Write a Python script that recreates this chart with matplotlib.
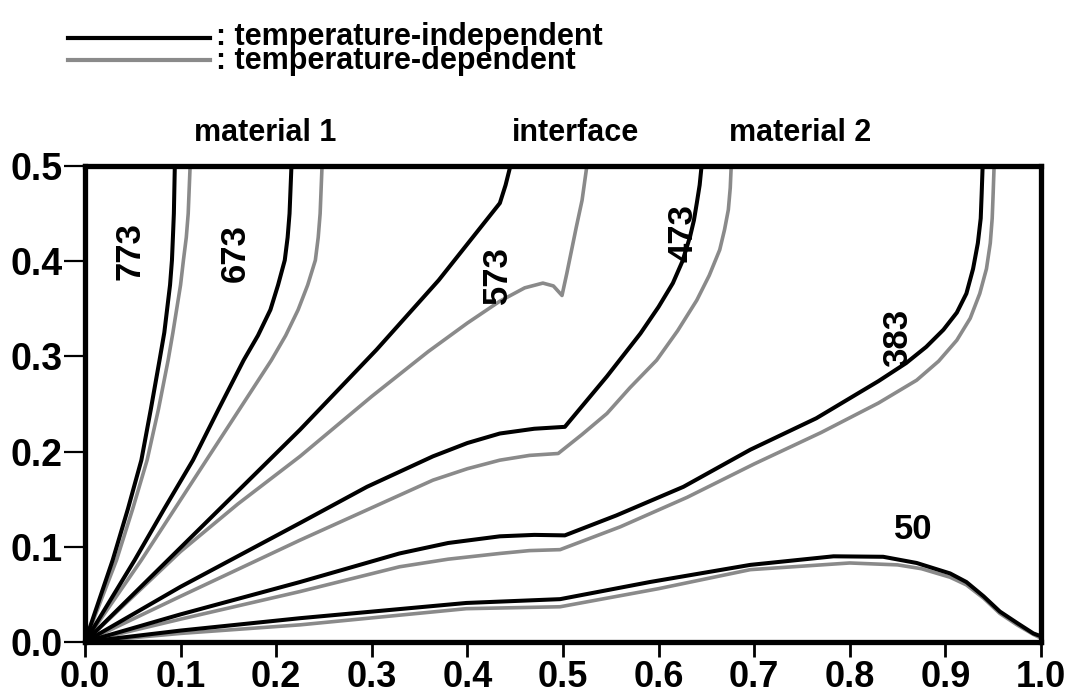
import matplotlib
matplotlib.use('Agg')
import matplotlib.pyplot as plt
from matplotlib.lines import Line2D

plt.rcParams['font.family'] = ['Liberation Sans', 'DejaVu Sans']
plt.rcParams['font.weight'] = 'bold'

# ── DATA ─────────────────────────────────────────────────────────────────────
# temperature-independent (black) and temperature-dependent (gray) isotherms
x773_ind = [0, 0.029, 0.045, 0.059, 0.069, 0.078, 0.083, 0.086, 0.089,
            0.091, 0.092, 0.093, 0.094]
y773_ind = [0, 0.086, 0.140, 0.191, 0.245, 0.296, 0.325, 0.350, 0.375,
            0.401, 0.425, 0.450, 0.500]
x773_dep = [0, 0.033, 0.050, 0.065, 0.077, 0.087, 0.092, 0.096, 0.100,
            0.103, 0.106, 0.108, 0.110]
y773_dep = [0, 0.086, 0.140, 0.191, 0.245, 0.296, 0.325, 0.350, 0.375,
            0.401, 0.425, 0.450, 0.500]

x673_ind = [0, 0.052, 0.083, 0.113, 0.140, 0.166, 0.181, 0.194, 0.202,
            0.209, 0.212, 0.214, 0.215, 0.216]
y673_ind = [0, 0.086, 0.140, 0.191, 0.245, 0.296, 0.322, 0.349, 0.375,
            0.401, 0.425, 0.450, 0.475, 0.500]
x673_dep = [0, 0.059, 0.094, 0.127, 0.162, 0.195, 0.210, 0.223, 0.233,
            0.241, 0.244, 0.246, 0.247, 0.248]
y673_dep = [0, 0.086, 0.140, 0.191, 0.245, 0.296, 0.322, 0.349, 0.375,
            0.401, 0.425, 0.450, 0.475, 0.500]

x573_ind = [0, 0.225, 0.305, 0.370, 0.434, 0.440, 0.445]
y573_ind = [0, 0.223, 0.307, 0.380, 0.461, 0.480, 0.500]
x573_dep = [0, 0.100, 0.160, 0.225, 0.300, 0.359, 0.400, 0.434, 0.460,
            0.479, 0.490, 0.499, 0.504, 0.514, 0.520, 0.525]
y573_dep = [0, 0.095, 0.145, 0.195, 0.258, 0.305, 0.335, 0.358, 0.372,
            0.377, 0.374, 0.364, 0.387, 0.436, 0.464, 0.500]

x473_ind = [0, 0.100, 0.225, 0.295, 0.364, 0.400, 0.434, 0.470, 0.502,
            0.546, 0.581, 0.600, 0.615, 0.625, 0.633, 0.637, 0.640,
            0.643, 0.645]
y473_ind = [0, 0.058, 0.125, 0.163, 0.195, 0.209, 0.219, 0.224, 0.226,
            0.279, 0.324, 0.352, 0.377, 0.400, 0.426, 0.443, 0.461,
            0.480, 0.500]
x473_dep = [0, 0.100, 0.225, 0.364, 0.400, 0.434, 0.465, 0.495, 0.520,
            0.546, 0.570, 0.598, 0.620, 0.640, 0.653, 0.664, 0.669,
            0.673, 0.675, 0.676]
y473_dep = [0, 0.048, 0.107, 0.170, 0.182, 0.191, 0.196, 0.198, 0.218,
            0.240, 0.267, 0.296, 0.327, 0.359, 0.385, 0.412, 0.433,
            0.454, 0.477, 0.500]

x383_ind = [0, 0.100, 0.225, 0.329, 0.380, 0.434, 0.470, 0.502, 0.556,
            0.626, 0.696, 0.765, 0.800, 0.830, 0.859, 0.880, 0.898,
            0.912, 0.922, 0.929, 0.934, 0.937, 0.938, 0.939]
y383_ind = [0, 0.029, 0.063, 0.093, 0.104, 0.111, 0.1125, 0.112, 0.133,
            0.163, 0.202, 0.235, 0.256, 0.274, 0.293, 0.310, 0.328,
            0.346, 0.366, 0.392, 0.419, 0.445, 0.471, 0.500]
x383_dep = [0, 0.100, 0.225, 0.329, 0.380, 0.434, 0.465, 0.497, 0.560,
            0.630, 0.700, 0.770, 0.830, 0.870, 0.893, 0.912, 0.926,
            0.936, 0.943, 0.947, 0.949, 0.950, 0.951]
y383_dep = [0, 0.024, 0.053, 0.079, 0.087, 0.093, 0.096, 0.097, 0.121,
            0.152, 0.187, 0.220, 0.251, 0.275, 0.295, 0.317, 0.340,
            0.366, 0.392, 0.419, 0.445, 0.471, 0.500]

x50_ind = [0, 0.100, 0.225, 0.399, 0.497, 0.591, 0.696, 0.783, 0.835,
           0.870, 0.905, 0.922, 0.940, 0.957, 0.975, 0.992, 1.000]
y50_ind = [0, 0.012, 0.025, 0.041, 0.045, 0.063, 0.081, 0.090, 0.0895,
           0.083, 0.072, 0.063, 0.048, 0.032, 0.020, 0.009, 0.006]
x50_dep = [0, 0.100, 0.225, 0.399, 0.497, 0.600, 0.696, 0.800, 0.850,
           0.875, 0.905, 0.922, 0.940, 0.957, 0.975, 0.992, 1.000]
y50_dep = [0, 0.009, 0.018, 0.035, 0.037, 0.056, 0.076, 0.083, 0.081,
           0.077, 0.068, 0.060, 0.046, 0.030, 0.018, 0.008, 0.004]

# isotherm labels: (text, x, y, rotation)
LABELS = [('773', 0.047, 0.411, 90), ('673', 0.157, 0.409, 90),
          ('573', 0.431, 0.385, 90), ('473', 0.626, 0.430, 90),
          ('383', 0.850, 0.319, 90), ('50', 0.866, 0.118, 0)]
REGIONS = [('material 1', 0.189), ('interface', 0.513), ('material 2', 0.748)]
LEGEND = [': temperature-independent', ': temperature-dependent']

XTICKS = [0.0, 0.1, 0.2, 0.3, 0.4, 0.5, 0.6, 0.7, 0.8, 0.9, 1.0]
YTICKS = [0.0, 0.1, 0.2, 0.3, 0.4, 0.5]

BLACK = 'black'
GRAY = '#8a8a8a'

fig = plt.figure(figsize=(10.85, 6.96), dpi=100)
ax = fig.add_axes([0.0783, 0.0776, 0.8811, 0.6839])

pairs = [
    (x773_ind, y773_ind, x773_dep, y773_dep),
    (x673_ind, y673_ind, x673_dep, y673_dep),
    (x573_ind, y573_ind, x573_dep, y573_dep),
    (x473_ind, y473_ind, x473_dep, y473_dep),
    (x383_ind, y383_ind, x383_dep, y383_dep),
    (x50_ind, y50_ind, x50_dep, y50_dep),
]
for xi, yi, xd, yd in pairs:
    ax.plot(xd, yd, color=GRAY, lw=2.6, solid_joinstyle='round', zorder=2)
    ax.plot(xi, yi, color=BLACK, lw=2.9, solid_joinstyle='round', zorder=3)

for txt, x, y, rot in LABELS:
    ax.text(x, y, txt, rotation=rot, ha='center', va='center',
            fontsize=25, fontweight='bold', zorder=4)

for txt, x in REGIONS:
    ax.text(x, 0.535, txt, ha='center', va='center', fontsize=22,
            fontweight='bold', clip_on=False)

ax.set_xlim(0, 1)
ax.set_ylim(0, 0.5)
ax.set_xticks(XTICKS)
ax.set_yticks(YTICKS)
ax.set_xticklabels([f'{v:.1f}' for v in XTICKS])
ax.set_yticklabels([f'{v:.1f}' for v in YTICKS])
for s in ax.spines.values():
    s.set_linewidth(3.8)
ax.tick_params(axis='x', direction='out', length=11, width=2, pad=2,
               labelsize=26)
ax.tick_params(axis='y', direction='out', length=15, width=1.6, pad=1,
               labelsize=27)
for lab in ax.get_xticklabels() + ax.get_yticklabels():
    lab.set_fontweight('bold')

# legend drawn by hand at the top-left
W, H = 1085.0, 696.0
for (label, color, ly, base) in [(LEGEND[0], BLACK, 38, 45),
                                  (LEGEND[1], GRAY, 60, 69)]:
    fig.add_artist(Line2D([68 / W, 210 / W], [1 - ly / H, 1 - ly / H],
                          color=color, lw=3.0))
    fig.text(216 / W, 1 - base / H, label, fontsize=22, fontweight='bold',
             va='baseline', ha='left')

fig.savefig('out.png', dpi=100)
